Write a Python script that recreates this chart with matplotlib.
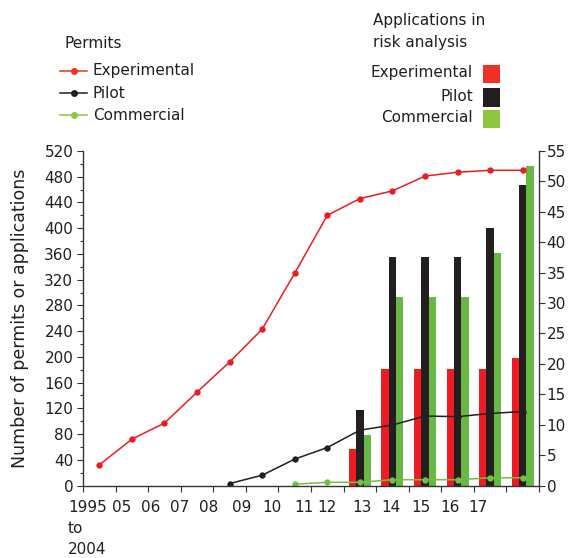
import matplotlib
matplotlib.use("Agg")
import matplotlib.pyplot as plt
from matplotlib.lines import Line2D
from matplotlib.patches import Rectangle
from matplotlib.ticker import MultipleLocator
import numpy as np

plt.rcParams['font.family'] = ['DejaVu Sans']

# Permits granted per period (left axis)
periods = ["1995\nto\n2004", "05", "06", "07", "08", "09", "10",
           "11", "12", "13", "14", "15", "16", "17"]
permits_experimental = [32, 72, 97, 145, 192, 243, 330, 420, 446, 458, 481, 487, 490, 490]
permits_pilot = [np.nan, np.nan, np.nan, np.nan, 3, 16, 41, 59, 86, 94, 108, 107, 112, 115]
permits_commercial = [np.nan] * 6 + [2, 5, 5, 9, 9, 9, 12, 12]

# Applications in risk analysis (right axis), 2012 onwards
risk_periods = ["12", "13", "14", "15", "16", "17"]
risk_experimental = [6.0, 19.2, 19.2, 19.2, 19.2, 21.0]
risk_pilot = [12.4, 37.5, 37.5, 37.5, 42.4, 49.4]
risk_commercial = [8.3, 31.0, 31.0, 31.0, 38.3, 52.5]

RED = "#ED1C24"
BLACK = "#231F20"
GREEN_BAR = "#69B845"
GREEN_LINE = "#72BF44"
AXIS = "#333333"
TXT = "#231F20"
FS = 11

W, H = 569, 558
fig = plt.figure(figsize=(W / 100, H / 100), dpi=100)
ax = fig.add_axes([83 / W, 1 - 485.5 / H, (539 - 83) / W, (485.5 - 151) / H])
ax2 = ax.twinx()

x = np.arange(len(periods))
bx = np.array([periods.index(p) for p in risk_periods])
bw = 0.225

ax2.bar(bx - bw, risk_experimental, bw, color=RED, linewidth=0)
ax2.bar(bx, risk_pilot, bw, color=BLACK, linewidth=0)
ax2.bar(bx + bw, risk_commercial, bw, color=GREEN_BAR, linewidth=0)

line_kw = dict(lw=1.1, marker="o", ms=4.6, markeredgewidth=0)
ax.plot(x, permits_experimental, color=RED, **line_kw)
ax.plot(x, permits_pilot, color=BLACK, **line_kw)
ax.plot(x, permits_commercial, color=GREEN_LINE, **line_kw)

# lines above the bars
ax.set_zorder(ax2.get_zorder() + 1)
ax.patch.set_visible(False)

ax.set_xlim(-0.5, len(periods) - 0.5)
ax.set_ylim(0, 520)
ax2.set_ylim(0, 55)

ax.yaxis.set_major_locator(MultipleLocator(40))
ax.yaxis.set_minor_locator(MultipleLocator(20))
ax2.yaxis.set_major_locator(MultipleLocator(5))

ax.set_xticks(np.arange(-0.5, len(periods), 1.0))
ax.set_xticklabels([])

for a in (ax, ax2):
    a.spines["top"].set_visible(False)
    for s in a.spines.values():
        s.set_color(AXIS)
        s.set_linewidth(1.0)
ax.spines["right"].set_visible(False)
ax2.spines["left"].set_visible(False)
ax2.spines["bottom"].set_visible(False)

ax.tick_params(axis="y", which="major", length=4.5, width=0.8, color=AXIS,
               labelsize=FS, pad=2.5, labelcolor=TXT)
ax.tick_params(axis="y", which="minor", length=2.5, width=0.8, color=AXIS)
ax.tick_params(axis="x", which="major", length=4.5, width=0.8, color=AXIS)
ax2.tick_params(axis="y", which="major", length=4.5, width=0.8, color=AXIS,
                labelsize=FS, pad=1.0, labelcolor=TXT)

ax.set_ylabel("Number of permits or applications", fontsize=12.5, labelpad=11,
              color=TXT)

# period labels sit to the left of each interval
label_pos = [-0.96, 0.70, 1.59, 2.48, 3.37, 4.38, 5.30, 6.29, 6.99, 8.07,
             8.96, 9.88, 10.77, 11.63]
for i, (lab, xp) in enumerate(zip(periods, label_pos)):
    ax.annotate(lab, xy=(xp, 0), xycoords=("data", "axes fraction"),
                xytext=(0, -10.5), textcoords="offset points",
                ha="left" if i == 0 else "center", va="top",
                fontsize=FS, linespacing=1.5, color=TXT,
                annotation_clip=False)


def fp(px, py):
    return (px / W, 1 - py / H)


# Permits legend
fig.text(*fp(65, 43), "Permits", fontsize=FS, va="center", ha="left", color=TXT)
for yy, col, lab in [(71, "#EE3124", "Experimental"), (93, BLACK, "Pilot"),
                     (115, "#8DC63F", "Commercial")]:
    (x0, y0), (x1, _) = fp(60, yy), fp(87, yy)
    fig.add_artist(Line2D([x0, x1], [y0, y0], transform=fig.transFigure,
                          color=col, lw=1.1))
    fig.add_artist(Line2D([fp(74, yy)[0]], [y0], transform=fig.transFigure,
                          color=col, marker="o", ms=5, markeredgewidth=0))
    fig.text(*fp(93, yy), lab, fontsize=FS, va="center", ha="left", color=TXT)

# Risk analysis legend
fig.text(*fp(373, 20), "Applications in", fontsize=FS, va="center", ha="left",
         color=TXT)
fig.text(*fp(373, 43), "risk analysis", fontsize=FS, va="center", ha="left",
         color=TXT)
for (yt, ytop, ybot), col, lab in [((72, 65, 83), "#EE3124", "Experimental"),
                                   ((96, 88, 107), BLACK, "Pilot"),
                                   ((117, 110, 128), "#8DC63F", "Commercial")]:
    fig.text(*fp(473, yt), lab, fontsize=FS, va="center", ha="right", color=TXT)
    xa, yb = fp(483, ybot)
    xb, ya = fp(500, ytop)
    fig.add_artist(Rectangle((xa, yb), xb - xa, ya - yb, transform=fig.transFigure,
                             color=col, linewidth=0))

fig.savefig("out.png", dpi=100)
